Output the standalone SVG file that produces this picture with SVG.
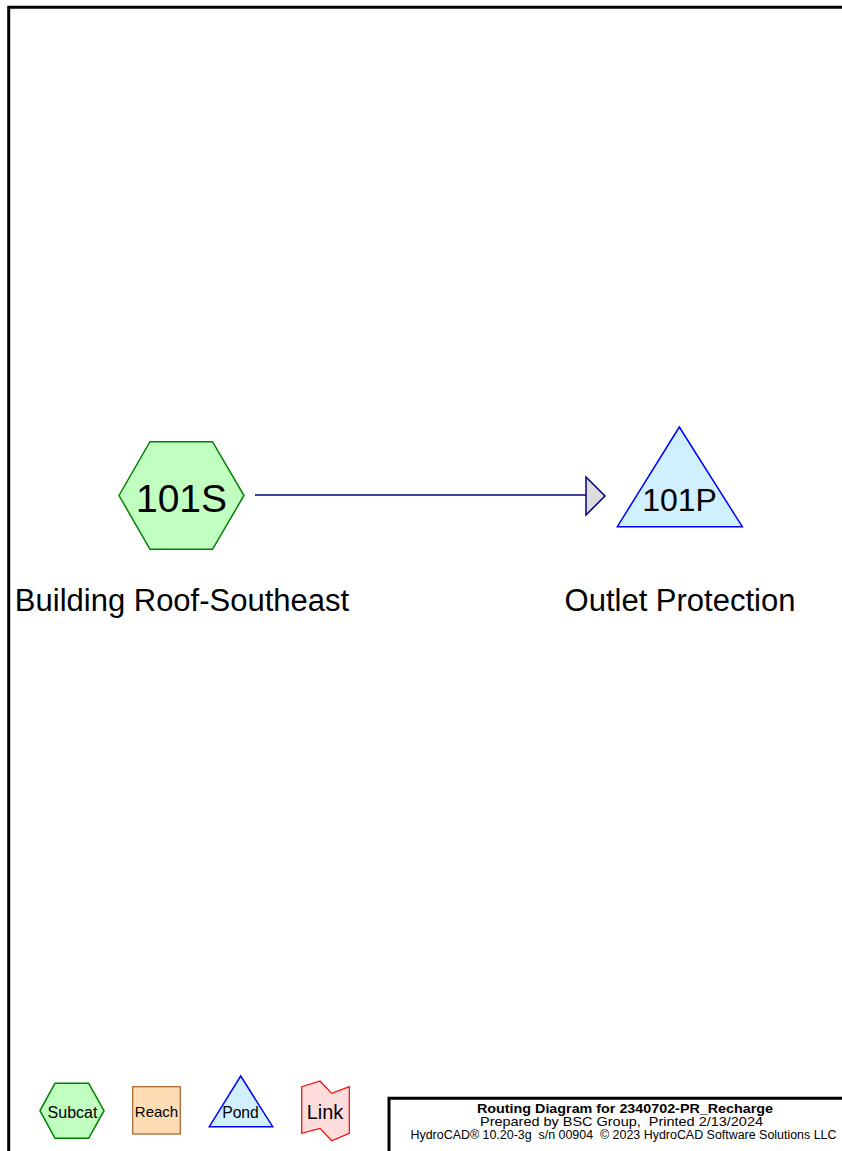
<svg xmlns="http://www.w3.org/2000/svg" width="842" height="1151" viewBox="0 0 842 1151">
<style>
text{font-family:"Liberation Sans",Arial,sans-serif;fill:#000}
.subcat{fill:#c0ffc0;stroke:#008000;stroke-width:1.5}
.pond{fill:#d0f0ff;stroke:#0000ff;stroke-width:1.5}
.reach{fill:#ffdcb4;stroke:#a0602a;stroke-width:1.2}
.link{fill:#ffdcdc;stroke:#ff0000;stroke-width:1.2}
.frame{fill:none;stroke:#000;stroke-width:3}
</style>
<rect width="842" height="1151" fill="#fff"/>
<path class="frame" d="M8.7,1151 V7.2 H842"/>
<g id="connectors">
<line x1="255" y1="495" x2="587" y2="495" stroke="#000080" stroke-width="1.5"/>
<polygon points="586,477 605,496 586,515" fill="#dcdcdc" stroke="#000080" stroke-width="1.5"/>
</g>
<g id="node-101S">
<polygon class="subcat" points="119,495.5 150,441.7 212.5,441.7 244,495.5 212.5,549.3 150,549.3"/>
<text x="181.5" y="511.5" font-size="39" text-anchor="middle">101S</text>
<text x="182" y="611" font-size="31" text-anchor="middle">Building Roof-Southeast</text>
</g>
<g id="node-101P">
<polygon class="pond" points="679.3,427 742.3,526.7 617.3,526.7"/>
<text x="679.5" y="510.5" font-size="32" text-anchor="middle">101P</text>
<text x="680" y="611" font-size="31" text-anchor="middle">Outlet Protection</text>
</g>
<g id="legend-subcat">
<polygon class="subcat" points="40,1110.7 55,1083.3 88.7,1083.3 104,1110.7 88.7,1138.3 55,1138.3"/>
<text x="72.5" y="1118" font-size="16" text-anchor="middle">Subcat</text>
</g>
<g id="legend-reach">
<rect class="reach" x="132.7" y="1086.7" width="47.6" height="47.3"/>
<text x="156.5" y="1116.7" font-size="15" text-anchor="middle">Reach</text>
</g>
<g id="legend-pond">
<polygon class="pond" points="240.7,1076 272.7,1126.7 209.3,1126.7"/>
<text x="240.5" y="1118.3" font-size="15.7" text-anchor="middle">Pond</text>
</g>
<g id="legend-link">
<polygon class="link" points="301.7,1086.7 320,1081 331.7,1093.3 349.3,1086.7 349.3,1133.3 331.7,1140.7 320,1128.3 301.7,1133.3"/>
<text x="325" y="1118.5" font-size="20" text-anchor="middle">Link</text>
</g>
<g id="title-block">
<path class="frame" d="M389,1151 V1098.2 H842"/>
<text x="625" y="1112.5" font-size="13" font-weight="bold" text-anchor="middle" textLength="296" lengthAdjust="spacingAndGlyphs">Routing Diagram for 2340702-PR_Recharge</text>
<text x="621.5" y="1125.8" font-size="13" text-anchor="middle" textLength="283" lengthAdjust="spacingAndGlyphs" xml:space="preserve">Prepared by BSC Group,  Printed 2/13/2024</text>
<text x="623.5" y="1139" font-size="12" text-anchor="middle" textLength="426" lengthAdjust="spacingAndGlyphs" xml:space="preserve">HydroCAD® 10.20-3g  s/n 00904  © 2023 HydroCAD Software Solutions LLC</text>
</g>
</svg>
